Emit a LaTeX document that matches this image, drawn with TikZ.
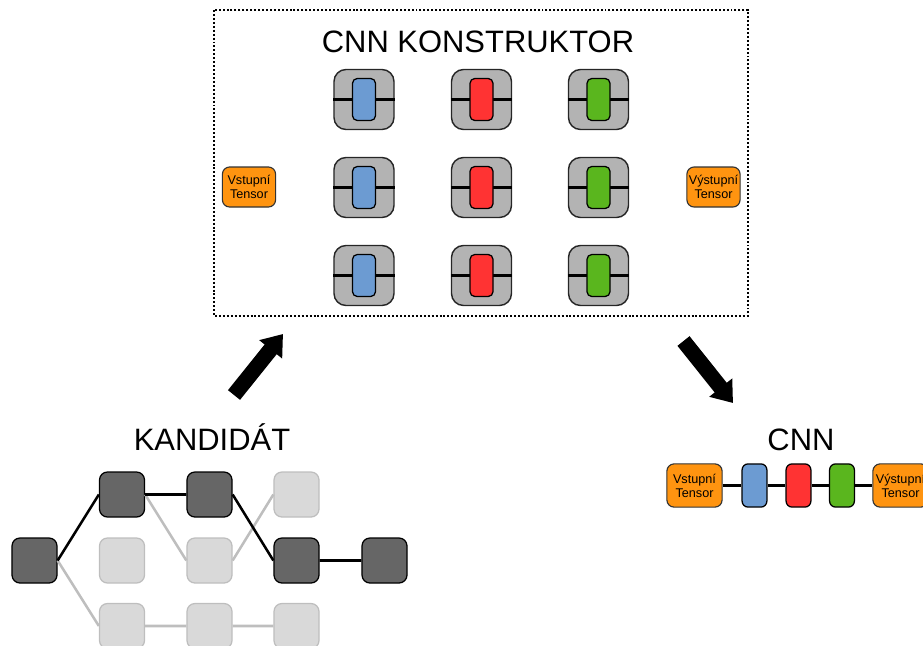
\documentclass[tikz,border=0pt]{standalone}
\usepackage{fontspec}
\setmainfont{Liberation Sans}
\usetikzlibrary{arrows.meta}

\definecolor{grauBox}{RGB}{179,179,179}
\definecolor{blau}{RGB}{108,155,210}
\definecolor{rot}{RGB}{255,51,51}
\definecolor{gruen}{RGB}{90,182,30}
\definecolor{orange}{RGB}{255,148,16}
\definecolor{dunkel}{RGB}{102,102,102}
\definecolor{hell}{RGB}{217,217,217}
\definecolor{hellrand}{RGB}{190,190,190}

\tikzset{
  gross/.style={font=\fontsize{22}{26}\selectfont, anchor=base},
  schicht/.style={draw=black!85, fill=grauBox, line width=1pt, rounded corners=0.3cm,
    minimum width=1.5cm, minimum height=1.5cm, inner sep=0pt},
  kern/.style={draw=black, fill=#1, line width=0.9pt, rounded corners=0.12cm,
    minimum width=0.575cm, minimum height=1.05cm, inner sep=0pt},
  tensor/.style={draw=black!80, fill=orange, line width=0.8pt, rounded corners=0.18cm,
    minimum width=1.33cm, minimum height=1cm, inner sep=0pt, align=center,
    font=\fontsize{9}{10}\selectfont},
  kette/.style={draw=black, fill=#1, line width=0.9pt, rounded corners=0.15cm,
    minimum width=0.62cm, minimum height=1.08cm, inner sep=0pt},
  aktiv/.style={draw=black, fill=dunkel, line width=0.9pt, rounded corners=0.2cm,
    minimum size=1.125cm, inner sep=0pt},
  passiv/.style={draw=hellrand, fill=hell, line width=0.9pt, rounded corners=0.2cm,
    minimum size=1.125cm, inner sep=0pt},
  pfeil/.style={line width=11pt, -{Triangle[length=14pt, width=20pt]}}
}

\begin{document}
\begin{tikzpicture}[x=0.025cm, y=-0.025cm]
\useasboundingbox (0,0) rectangle (923,646);

% Konstruktor
\draw[line width=0.8pt, dash pattern=on 1.4pt off 1.4pt] (214,10) rectangle (748,316);
\node[gross] (titel) at (478,52) {CNN KONSTRUKTOR};
\foreach \x/\farbe [count=\i] in {364/blau, 481.5/rot, 598.5/gruen}
  \foreach \y [count=\j] in {99.5, 187.5, 275.5} {
    \node[schicht] (s\i\j) at (\x,\y) {};
    \draw[line width=1.8pt] (s\i\j.west) -- (s\i\j.east);
    \node[kern=\farbe] (k\i\j) at (\x,\y) {};
  }
\node[tensor] (ein) at (249,187) {Vstupní\\Tensor};
\node[tensor] (aus) at (713.5,187) {Výstupní\\Tensor};

% Pfeile
\coordinate (p1) at (234,395);
\coordinate (p2) at (283,334);
\coordinate (p3) at (683.5,341);
\coordinate (p4) at (733,403);
\draw[pfeil] (p1) -- (p2);
\draw[pfeil] (p3) -- (p4);

% Kandidat
\node[gross] (kand) at (212,450) {KANDIDÁT};
\node[aktiv] (n1) at (34.5,560.5) {};
\node[aktiv] (n2) at (122,494.5) {};
\node[aktiv] (n3) at (209.5,494.5) {};
\node[passiv] (n4) at (296.5,494.5) {};
\node[passiv] (n5) at (122,560.5) {};
\node[passiv] (n6) at (209.5,560.5) {};
\node[aktiv] (n7) at (296.5,560.5) {};
\node[aktiv] (n8) at (384.5,560.5) {};
\node[passiv] (n9) at (122,626) {};
\node[passiv] (n10) at (209.5,626) {};
\node[passiv] (n11) at (296.5,626) {};
\draw[hellrand, line width=1.8pt] (n1.east) -- (n9.west) (n2.east) -- (n6.west)
  (n6.east) -- (n4.west) (n9) -- (n10) -- (n11);
\draw[line width=1.8pt] (n1.east) -- (n2.west) (n2) -- (n3) (n3.east) -- (n7.west) (n7) -- (n8);

% CNN
\node[gross] (cnn) at (801,450) {CNN};
\node[tensor, minimum width=1.38cm, minimum height=1.08cm] (c1) at (694.5,485.5) {Vstupní\\Tensor};
\node[kette=blau] (c2) at (754.5,485.5) {};
\node[kette=rot] (c3) at (798.5,485.5) {};
\node[kette=gruen] (c4) at (842,485.5) {};
\node[tensor, minimum width=1.38cm, minimum height=1.08cm] (c5) at (900.5,485.5) {Výstupní\\Tensor};
\draw[line width=1.8pt] (c1) -- (c2) -- (c3) -- (c4) -- (c5);
\end{tikzpicture}
\end{document}
